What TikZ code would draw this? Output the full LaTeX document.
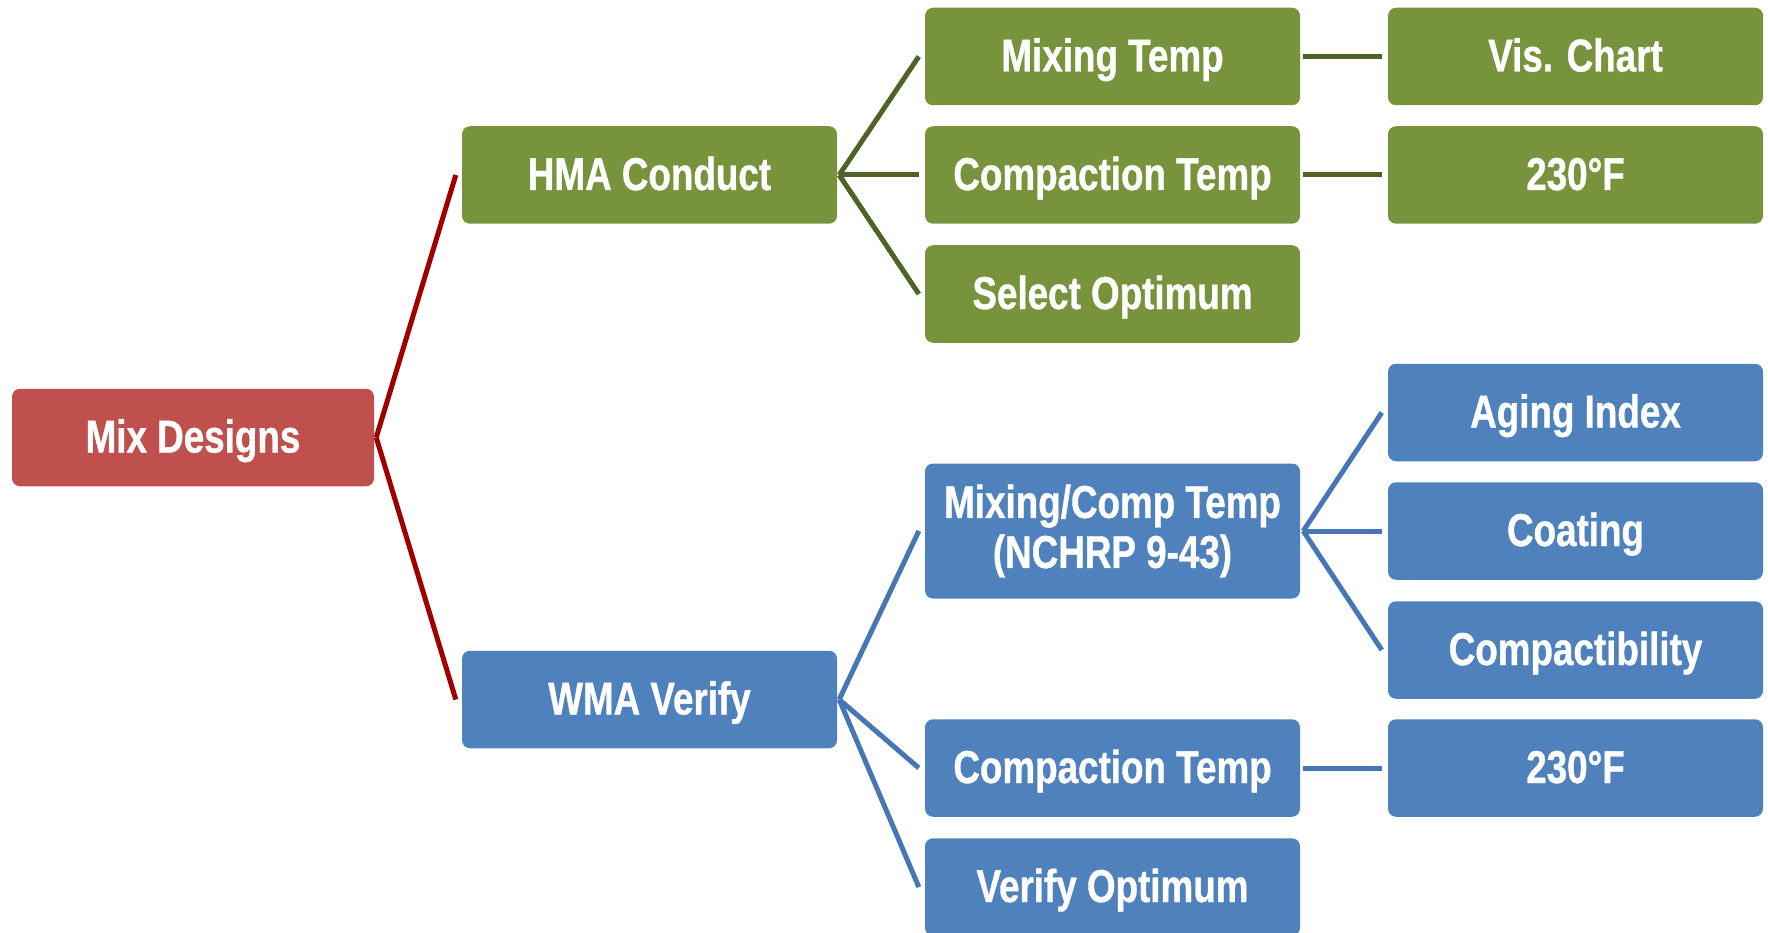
\documentclass[tikz,border=0pt]{standalone}
\usepackage{fontspec}
\newfontfamily\boxfont[FakeStretch=0.80, FakeBold=0.8]{Liberation Sans}
\definecolor{redbox}{HTML}{C0504D}
\definecolor{greenbox}{HTML}{77933C}
\definecolor{bluebox}{HTML}{4F81BD}
\definecolor{redline}{HTML}{9E0000}
\definecolor{greenline}{HTML}{4F6228}
\definecolor{blueline}{HTML}{4677B4}
\tikzset{
  box/.style={rectangle, rounded corners=8pt, minimum width=375pt, minimum height=97.5pt,
    inner sep=0pt, text=white, font=\boxfont\bfseries\fontsize{46}{50}\selectfont,
    text height=33pt, text depth=3pt, align=center},
  redbx/.style={box, fill=redbox, minimum width=362pt},
  greenbx/.style={box, fill=greenbox},
  bluebx/.style={box, fill=bluebox},
  conn/.style={line width=5pt},
  redconn/.style={conn, draw=redline},
  greenconn/.style={conn, draw=greenline},
  blueconn/.style={conn, draw=blueline},
}
\begin{document}
\begin{tikzpicture}[x=1pt, y=-1pt]
\useasboundingbox (0,0) rectangle (1768,933);
\clip (0,0) rectangle (1768,933);
% column 0 / 1
\node[redbx] (mix) at (193,437.5) {Mix Designs};
\node[greenbx] (hma) at (649.5,175) {HMA Conduct};
\node[bluebx] (wma) at (649.5,699.5) {WMA Verify};
% column 2
\node[greenbx] (mixt) at (1112.5,56.5) {Mixing Temp};
\node[greenbx] (compg) at (1112.5,175) {Compaction Temp};
\node[greenbx] (sel) at (1112.5,294) {Select Optimum};
\node[bluebx, minimum height=135pt, text height=, text depth=] (mct) at (1112.5,531) {Mixing/Comp Temp\\(NCHRP 9-43)};
\node[bluebx] (compb) at (1112.5,768) {Compaction Temp};
\node[bluebx] (ver) at (1112.5,887) {Verify Optimum};
% column 3
\node[greenbx] (vis) at (1575.5,56.5) {Vis. Chart};
\node[greenbx] (degg) at (1575.5,175) {230°F};
\node[bluebx] (aging) at (1575.5,412.5) {Aging Index};
\node[bluebx] (coat) at (1575.5,531) {Coating};
\node[bluebx] (compact) at (1575.5,650) {Compactibility};
\node[bluebx] (degb) at (1575.5,768) {230°F};
% connectors
\draw[redconn] ([xshift=2pt]mix.east) -- ([xshift=-6pt]hma.west);
\draw[redconn] ([xshift=2pt]mix.east) -- ([xshift=-6pt]wma.west);
\draw[greenconn] ([xshift=2pt]hma.east) -- ([xshift=-6pt]mixt.west);
\draw[greenconn] ([xshift=2pt]hma.east) -- ([xshift=-6pt]compg.west);
\draw[greenconn] ([xshift=2pt]hma.east) -- ([xshift=-6pt]sel.west);
\draw[greenconn] ([xshift=3pt]mixt.east) -- ([xshift=-6pt]vis.west);
\draw[greenconn] ([xshift=3pt]compg.east) -- ([xshift=-6pt]degg.west);
\draw[blueconn] ([xshift=2pt]wma.east) -- ([xshift=-6pt]mct.west);
\draw[blueconn] ([xshift=2pt]wma.east) -- ([xshift=-6pt]compb.west);
\draw[blueconn] ([xshift=2pt]wma.east) -- ([xshift=-6pt]ver.west);
\draw[blueconn] ([xshift=3pt]mct.east) -- ([xshift=-6pt]aging.west);
\draw[blueconn] ([xshift=3pt]mct.east) -- ([xshift=-6pt]coat.west);
\draw[blueconn] ([xshift=3pt]mct.east) -- ([xshift=-6pt]compact.west);
\draw[blueconn] ([xshift=3pt]compb.east) -- ([xshift=-6pt]degb.west);
\end{tikzpicture}
\end{document}
